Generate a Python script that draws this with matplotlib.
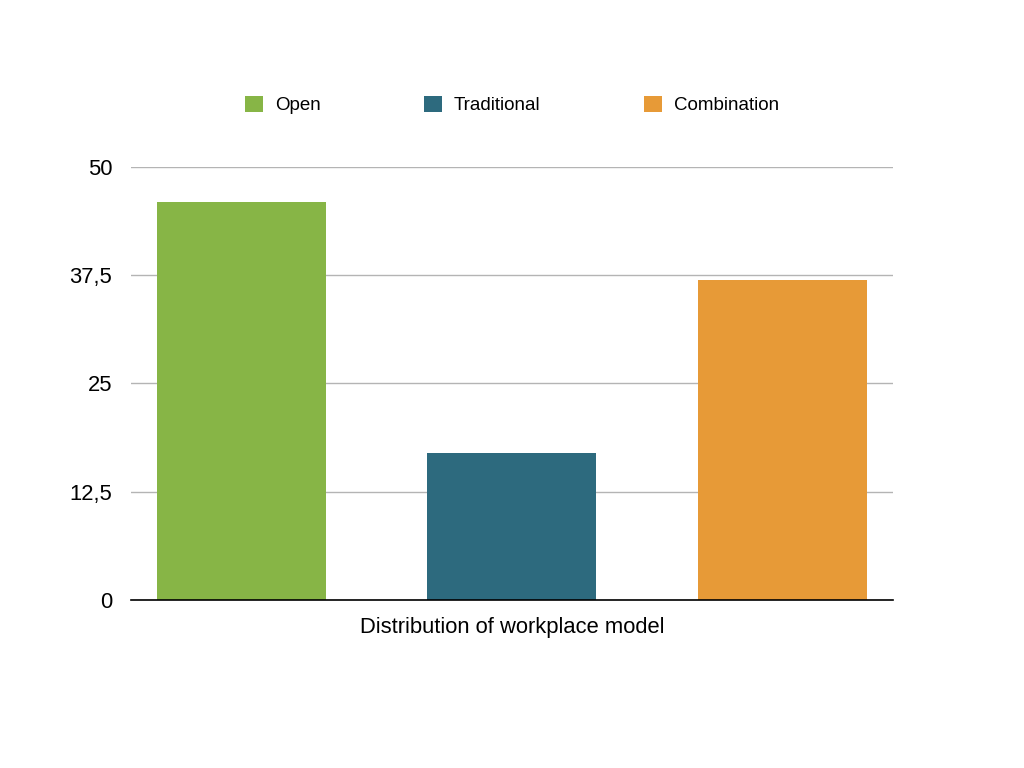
import matplotlib.pyplot as plt
from matplotlib.patches import Patch

plt.rcParams['font.family'] = ['Liberation Sans', 'DejaVu Sans']

categories = ['Open', 'Traditional', 'Combination']
values = [46, 17, 37]
colors = ['#87b546', '#2d6a7e', '#e79a37']
yticks = [0, 12.5, 25, 37.5, 50]
ytick_labels = ['0', '12,5', '25', '37,5', '50']


def main():
    fig = plt.figure(figsize=(10.24, 7.68), dpi=100)
    ax = fig.add_axes([0.1279, 0.2188, 0.7441, 0.5638])

    x = range(len(categories))
    ax.bar(x, values, width=0.625, color=colors, zorder=3)

    ax.set_ylim(0, 50)
    ax.set_xlim(-0.4085, 2.4085)
    ax.set_yticks(yticks)
    ax.set_yticklabels(ytick_labels, fontsize=15.8)
    ax.set_xticks([])
    ax.tick_params(axis='y', length=0, pad=13.5)
    ax.yaxis.grid(True, color='#b4b4b4', linewidth=1)
    ax.set_axisbelow(True)

    for s in ['top', 'right', 'left']:
        ax.spines[s].set_visible(False)
    ax.spines['bottom'].set_color('black')
    ax.spines['bottom'].set_linewidth(1.2)
    ax.spines['bottom'].set_zorder(4)

    ax.set_xlabel('Distribution of workplace model', fontsize=15.8, labelpad=12)

    handles = [Patch(facecolor=c, edgecolor='none') for c in colors]
    fig.legend(handles, categories, loc='center', bbox_to_anchor=(0.5, 0.863),
               ncol=3, frameon=False, fontsize=13.5, handlelength=0.95,
               handleheight=0.95, handletextpad=0.65, columnspacing=5.5)

    fig.savefig('out.png', dpi=100)


if __name__ == '__main__':
    main()
